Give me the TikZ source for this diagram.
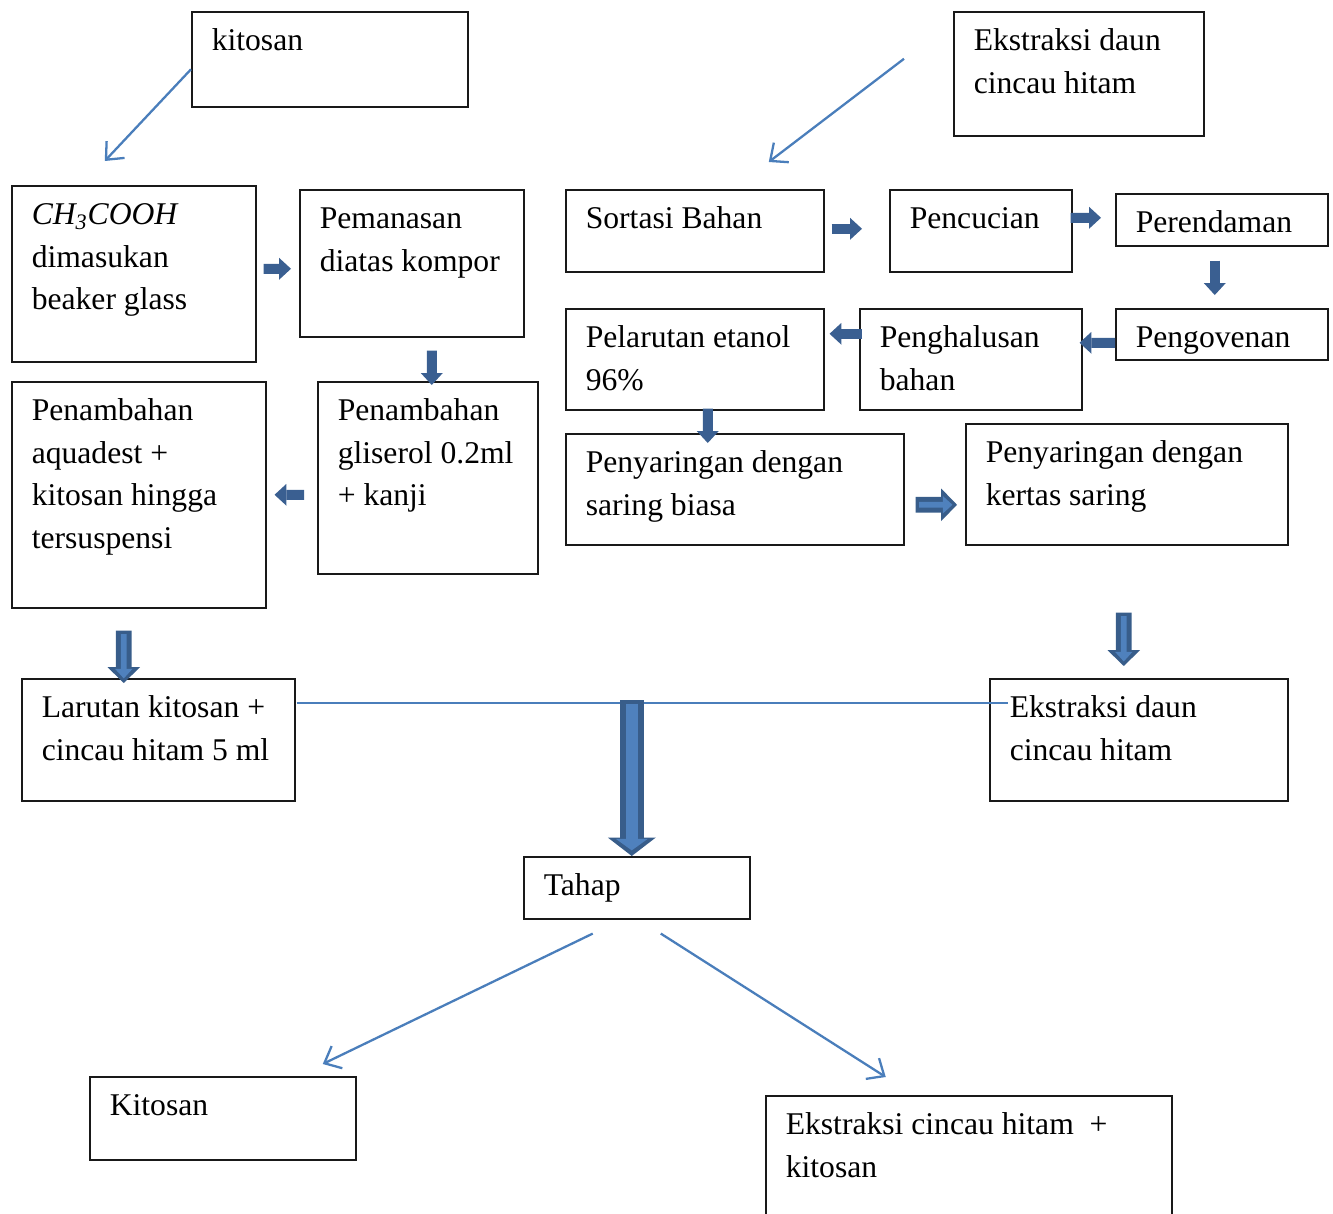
\documentclass[tikz,border=0pt]{standalone}
\usepackage{fontspec}
\setmainfont{Liberation Serif}
\usetikzlibrary{arrows.meta}
\definecolor{flowblue}{HTML}{4A7EBB}
\definecolor{blockblue}{HTML}{3A5F91}
\definecolor{rimblue}{HTML}{385D8A}
\definecolor{coreblue}{HTML}{4F81BD}
\newlength{\unitpx}
\setlength{\unitpx}{0.569055pt}
\newcommand{\boxtxt}[3]{\parbox[t][#2\unitpx][t]{#1\unitpx}{\raggedright\leftskip=20\unitpx\rule{0pt}{39\unitpx}#3}}

\begin{document}
\begin{tikzpicture}[x=0.02cm, y=-0.02cm,
    box/.style={draw=black!90, line width=0.9pt, inner sep=0pt, anchor=north west, font=\fontsize{18}{24.2}\selectfont},
    flow/.style={draw=flowblue, line width=1.3pt, -{Straight Barb[length=8pt,width=14pt]}},
    blk/.style={draw=blockblue, line width=5.7pt, -{Triangle[length=6.8pt,width=12.5pt,line width=0pt]}},
    midarrow/.style={draw=rimblue, line width=9pt, -{Triangle[length=9pt,width=18.5pt,line width=0pt]},
        postaction={draw=coreblue, line width=3.2pt, shorten <=2pt, shorten >=2.6pt, -{Triangle[length=5.5pt,width=10pt,line width=0pt]}}},
    bigarrow/.style={draw=rimblue, line width=13.7pt, -{Triangle[length=10.5pt,width=27.3pt,line width=0pt]},
        postaction={draw=coreblue, line width=6.8pt, shorten <=2pt, shorten >=3.2pt, -{Triangle[length=6.5pt,width=18pt,line width=0pt]}}}
]
\useasboundingbox (0,0) rectangle (1333,1214);
\clip (0,0) rectangle (1333,1214);

% boxes
\node[box] (kitosan) at (191,11) {\boxtxt{276}{95}{kitosan}};
\node[box] (daun) at (953,11) {\boxtxt{250}{124}{Ekstraksi daun\\cincau hitam}};
\node[box] (ch3) at (11,185) {\boxtxt{244}{176}{\textit{CH\textsubscript{3}COOH}\\dimasukan\\beaker glass}};
\node[box] (pemanasan) at (299,189) {\boxtxt{224}{147}{Pemanasan\\diatas kompor}};
\node[box] (sortasi) at (565,189) {\boxtxt{258}{82}{Sortasi Bahan}};
\node[box] (pencucian) at (889,189) {\boxtxt{182}{82}{Pencucian}};
\node[box] (perendaman) at (1115,193) {\boxtxt{212}{52}{Perendaman}};
\node[box] (pelarutan) at (565,308) {\boxtxt{258}{101}{Pelarutan etanol\\96\%}};
\node[box] (penghalusan) at (859,308) {\boxtxt{222}{101}{Penghalusan\\bahan}};
\node[box] (pengovenan) at (1115,308) {\boxtxt{212}{51}{Pengovenan}};
\node[box] (aquadest) at (11,381) {\boxtxt{254}{226}{Penambahan\\aquadest +\\kitosan hingga\\tersuspensi}};
\node[box] (gliserol) at (317,381) {\boxtxt{220}{192}{Penambahan\\gliserol 0.2ml\\+ kanji}};
\node[box] (biasa) at (565,433) {\boxtxt{338}{111}{Penyaringan dengan\\saring biasa}};
\node[box] (kertas) at (965,423) {\boxtxt{322}{121}{Penyaringan dengan\\kertas saring}};
\node[box] (larutan) at (21,678) {\boxtxt{273}{122}{Larutan kitosan +\\cincau hitam 5 ml}};
\node[box] (ekstrak) at (989,678) {\boxtxt{298}{122}{Ekstraksi daun\\cincau hitam}};
\node[box] (tahap) at (523,856) {\boxtxt{226}{62}{Tahap}};
\node[box] (hasilkit) at (89,1076) {\boxtxt{266}{83}{Kitosan}};
\node[box] (hasilcampur) at (765,1095) {\boxtxt{406}{140}{Ekstraksi cincau hitam~~+\\kitosan}};

% thin arrows
\draw[flow] ([shift={(0,10)}]kitosan.west) -- ([shift={(-29,-24)}]ch3.north);
\draw[flow] ([shift={(-49,-15)}]daun.west) -- ([shift={(74,-27)}]sortasi.north);
\draw[flow] ([shift={(-44,14)}]tahap.south) -- ([shift={(100,-12)}]hasilkit.north);
\draw[flow] ([shift={(24,14)}]tahap.south) -- ([shift={(-83,-18)}]hasilcampur.north);

% block arrows
\draw[blk] ([shift={(7,-5)}]ch3.east) -- ([shift={(-8,5.5)}]pemanasan.west);
\draw[blk] ([shift={(7,-2)}]sortasi.east) -- ([shift={(-27,-2)}]pencucian.west);
\draw[blk] ([shift={(-2,-13)}]pencucian.east) -- ([shift={(-14,-2)}]perendaman.west);
\draw[blk] ([shift={(-7,14)}]perendaman.south) -- ([shift={(-7,-13)}]pengovenan.north);
\draw[blk] ([shift={(0,8.5)}]pengovenan.west) -- ([shift={(-3,-16.5)}]penghalusan.east);
\draw[blk] ([shift={(3,-25.5)}]penghalusan.west) -- ([shift={(5,-25.5)}]pelarutan.east);
\draw[blk] ([shift={(13,-2)}]pelarutan.south) -- ([shift={(-27,10)}]biasa.north);
\draw[blk] ([shift={(20,13)}]pemanasan.south) -- ([shift={(4,4)}]gliserol.north);
\draw[blk] ([shift={(-13,17)}]gliserol.west) -- ([shift={(8,0)}]aquadest.east);

\draw[midarrow] ([shift={(11,15.5)}]biasa.east) -- ([shift={(-8,20.5)}]kertas.west);
\draw[midarrow] ([shift={(-3,67)}]kertas.south) -- ([shift={(-15,-12)}]ekstrak.north);
\draw[midarrow] ([shift={(-15,22)}]aquadest.south) -- ([shift={(-34.5,5)}]larutan.north);

% joining line and main arrow
\draw[flowblue, line width=1pt] ([shift={(1,-37)}]larutan.east) -- ([shift={(19,-37)}]ekstrak.west);
\draw[bigarrow] ([shift={(-5,-156)}]tahap.north) -- ([shift={(-5,0)}]tahap.north);
\end{tikzpicture}
\end{document}
